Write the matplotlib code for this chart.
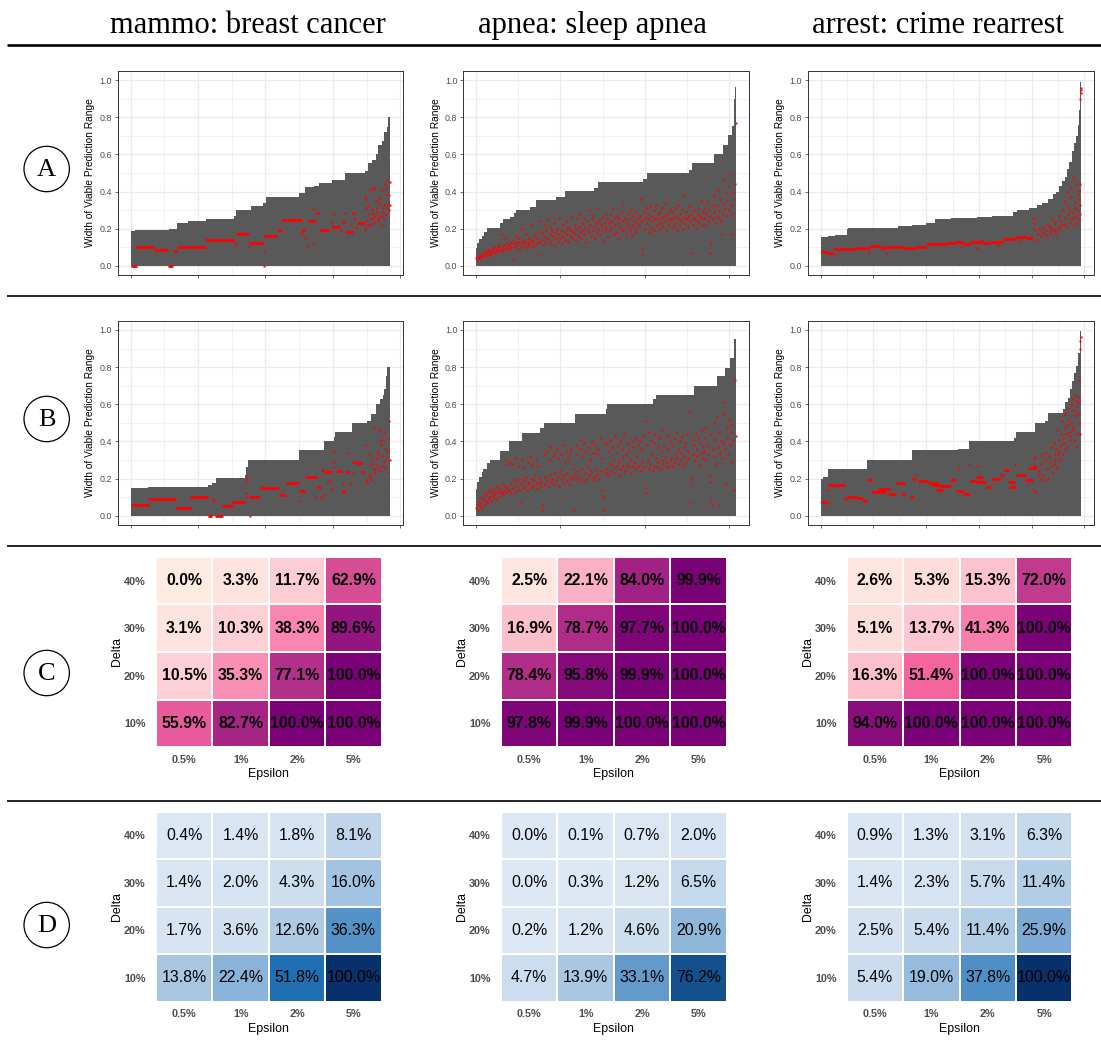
import numpy as np
import matplotlib
matplotlib.use("Agg")
import matplotlib.pyplot as plt
from matplotlib.patches import Circle
from matplotlib.colors import LinearSegmentedColormap, Normalize

plt.rcParams['font.family'] = ['Liberation Sans', 'DejaVu Sans']

# ---------------------------------------------------------------- data
titles = ["mammo: breast cancer", "apnea: sleep apnea", "arrest: crime rearrest"]
row_labels = ["A", "B", "C", "D"]
eps_labels = ["0.5%", "1%", "2%", "5%"]
delta_labels = ["10%", "20%", "30%", "40%"]

# sample counts and x tick step per dataset
n_samples = [961, 1231, 24685]
tick_steps = [250, 400, 5000]

# sorted width of viable prediction range: step start (percent of samples) -> height
mA_step_pct = [0, 1.7, 14.8, 17.9, 22.1, 29.1, 39.7, 40.6, 46.4, 51.2, 52.1, 64.9, 67.4, 70.6, 72.5,
               77.6, 82.8, 90.4, 91.4, 92.9, 94.6, 95.5, 96.8, 97.8, 98.7, 99.4]
mA_step_h = [0.187, 0.193, 0.20, 0.23, 0.24, 0.25, 0.27, 0.30, 0.32, 0.34, 0.37, 0.39, 0.425, 0.43, 0.445,
             0.46, 0.50, 0.51, 0.555, 0.57, 0.60, 0.65, 0.67, 0.72, 0.75, 0.80]
mB_step_pct = [0, 6.8, 29.8, 31.4, 32.8, 44.2, 44.6, 45.1, 64.9, 74.5, 78.3, 78.9, 85.3, 91.1, 92.5,
               94.5, 96.2, 97.1, 97.8, 98.3, 99.0]
mB_step_h = [0.147, 0.152, 0.165, 0.175, 0.202, 0.22, 0.26, 0.30, 0.353, 0.40, 0.425, 0.45, 0.50, 0.51,
             0.55, 0.60, 0.63, 0.65, 0.68, 0.75, 0.80]
aA_step_pct = [0, 0.5, 1.3, 2.2, 3.1, 4.1, 9.2, 10.2, 13.0, 14.6, 15.3, 20.7, 23.0, 30.9, 34.1, 45.3,
               46.9, 64.2, 65.7, 82.1, 83.1, 91.7, 95.1, 96.8, 98.5, 99.1, 99.5]
aA_step_h = [0.094, 0.124, 0.142, 0.162, 0.18, 0.204, 0.23, 0.25, 0.265, 0.283, 0.30, 0.315, 0.355,
             0.373, 0.404, 0.418, 0.45, 0.468, 0.50, 0.517, 0.553, 0.60, 0.652, 0.706, 0.755, 0.90, 0.964]
aB_step_pct = [0, 0.5, 1.3, 2.2, 2.8, 4.1, 5.4, 9.2, 12.8, 17.5, 24.6, 26.1, 38.0, 49.9, 50.4, 68.0,
               69.3, 84.0, 92.6, 95.8, 97.8, 99.4]
aB_step_h = [0.143, 0.183, 0.206, 0.233, 0.254, 0.283, 0.30, 0.351, 0.40, 0.448, 0.47, 0.498, 0.55,
             0.575, 0.60, 0.627, 0.649, 0.70, 0.753, 0.796, 0.848, 0.95]
rA_step_pct = [0, 2.9, 5.5, 10.1, 10.5, 29.6, 35.0, 40.5, 44.0, 50.0, 60.0, 66.0, 73.9, 75.4, 80.2,
               83.1, 85.0, 87.5, 89.2, 90.3, 91.4, 92.6, 93.7, 94.6, 95.5, 96.4, 97.2, 98.1, 98.7,
               99.2, 99.5, 99.7]
rA_step_h = [0.153, 0.162, 0.168, 0.20, 0.203, 0.212, 0.218, 0.228, 0.25, 0.256, 0.262, 0.27, 0.29,
             0.298, 0.31, 0.325, 0.338, 0.36, 0.385, 0.40, 0.43, 0.455, 0.48, 0.52, 0.56, 0.62, 0.66,
             0.70, 0.76, 0.84, 0.92, 0.99]
rB_step_pct = [0, 1.0, 2.9, 17.6, 34.9, 52.6, 56.9, 74.3, 75.2, 82.4, 86.2, 87.5, 93.1, 94.0, 94.9,
               95.9, 96.6, 97.4, 98.2, 99.0, 99.6]
rB_step_h = [0.20, 0.206, 0.25, 0.30, 0.353, 0.358, 0.40, 0.42, 0.45, 0.50, 0.51, 0.552, 0.573, 0.61,
             0.636, 0.68, 0.726, 0.77, 0.806, 0.878, 0.995]

# runs of samples sharing the same red value: (start pct, end pct, value)
mA_runs = [(0, 2.3, 0.0), (2.0, 8.9, 0.103), (8.9, 14.4, 0.085), (14.4, 16.3, 0.0), (16.3, 17.9, 0.08),
           (17.9, 29.1, 0.103), (29.1, 40.0, 0.14), (40.6, 45.5, 0.171), (45.7, 51.5, 0.124),
           (51.5, 56.6, 0.162), (56.6, 58.2, 0.19), (58.2, 65.9, 0.247), (65.5, 67.4, 0.19),
           (68.2, 71.5, 0.24), (71.5, 72.5, 0.287), (72.5, 76.6, 0.193), (77.4, 80.8, 0.21),
           (81.5, 82.8, 0.235), (82.8, 85.6, 0.18), (85.3, 86.6, 0.283), (87.2, 90.2, 0.232),
           (89.8, 90.7, 0.198), (93.0, 94.3, 0.42)]
mB_runs = [(0, 7.0, 0.057), (6.8, 17.6, 0.09), (17.5, 23.1, 0.041), (22.7, 29.8, 0.10), (29.8, 31.3, 0.0),
           (31.3, 32.7, 0.086), (32.7, 35.5, 0.0), (35.1, 39.3, 0.054), (39.0, 44.1, 0.075),
           (45.7, 49.9, 0.10), (49.9, 57.2, 0.147), (57.2, 60.0, 0.11), (60.0, 64.9, 0.174),
           (64.9, 67.2, 0.133), (67.2, 71.9, 0.21), (71.9, 73.2, 0.152), (73.2, 74.7, 0.245),
           (74.7, 77.7, 0.237), (79.3, 81.5, 0.242), (81.5, 83.1, 0.134), (82.6, 84.1, 0.233),
           (85.3, 86.6, 0.287), (86.8, 89.1, 0.283), (88.8, 90.0, 0.233)]
rA_runs = [(0, 2.9, 0.072), (2.9, 4.9, 0.067), (4.9, 10.0, 0.088), (10.0, 13.8, 0.092), (13.8, 18.9, 0.097),
           (18.9, 22.7, 0.108), (22.7, 24.6, 0.097), (24.6, 31.7, 0.103), (31.7, 36.8, 0.094),
           (36.8, 40.6, 0.103), (40.6, 48.3, 0.115), (48.3, 52.1, 0.121), (52.1, 54.7, 0.13),
           (54.7, 57.2, 0.117), (57.2, 62.3, 0.126), (62.3, 64.9, 0.121), (64.9, 70.0, 0.13),
           (70.0, 75.1, 0.142), (75.1, 78.9, 0.157), (78.9, 81.5, 0.148)]
rB_runs = [(0, 2.3, 0.072), (2.3, 3.3, 0.068), (2.9, 9.3, 0.167), (8.9, 10.2, 0.09), (10.2, 13.8, 0.10),
           (13.8, 16.3, 0.093), (16.3, 17.6, 0.08), (17.6, 19.8, 0.19), (19.5, 24.6, 0.13),
           (22.1, 26.6, 0.143), (25.9, 29.1, 0.116), (29.1, 32.3, 0.175), (31.0, 32.3, 0.116),
           (34.2, 35.8, 0.10), (34.9, 36.8, 0.197), (37.4, 41.3, 0.185), (41.3, 45.1, 0.175),
           (42.5, 45.7, 0.165), (45.7, 50.2, 0.16), (44.4, 47.0, 0.14), (49.6, 52.1, 0.19),
           (52.1, 54.7, 0.134), (54.7, 57.2, 0.116), (57.2, 59.8, 0.188), (59.8, 62.3, 0.206),
           (59.8, 63.6, 0.18), (63.6, 65.5, 0.152), (65.5, 68.7, 0.197), (68.7, 70.6, 0.219),
           (70.6, 72.5, 0.247), (71.9, 74.8, 0.18), (72.5, 75.1, 0.156), (75.1, 78.9, 0.219),
           (78.3, 81.5, 0.194), (79.6, 82.8, 0.255)]

# individual red points: (pct of samples, value)
mA_pts = [(51.5, 0.08), (51.5, 0.0), (40.6, 0.11), (40.2, 0.12), (29.1, 0.145), (21.7, 0.095),
          (68.1, 0.10), (67.6, 0.15), (70.5, 0.12), (70.2, 0.305), (45.7, 0.105), (66.1, 0.175),
          (77.1, 0.235), (77.9, 0.28), (81.2, 0.19), (82.5, 0.285), (86.0, 0.25), (87.0, 0.205),
          (85.0, 0.22), (90.4, 0.37), (90.8, 0.31), (91.2, 0.24), (91.4, 0.22), (91.8, 0.28),
          (92.1, 0.41), (92.5, 0.26), (92.7, 0.22), (93.0, 0.30), (93.4, 0.25), (93.6, 0.28),
          (93.9, 0.23), (94.3, 0.27), (94.5, 0.35), (94.8, 0.29), (95.0, 0.31), (95.3, 0.26),
          (95.5, 0.24), (95.8, 0.34), (96.0, 0.36), (96.3, 0.27), (96.6, 0.22), (96.8, 0.41),
          (97.1, 0.31), (97.3, 0.29), (97.6, 0.33), (97.8, 0.25), (98.1, 0.44), (98.3, 0.38),
          (98.6, 0.28), (98.9, 0.31), (99.1, 0.46), (99.4, 0.33), (99.6, 0.30), (99.9, 0.45),
          (90.9, 0.36), (91.5, 0.32), (97.0, 0.27), (98.5, 0.42), (99.7, 0.38), (99.8, 0.33)]
mB_pts = [(44.6, 0.10), (44.8, 0.19), (45.0, 0.21), (44.5, 0.12), (46.0, 0.0), (64.9, 0.08),
          (71.4, 0.10), (74.7, 0.11), (77.9, 0.35), (78.3, 0.29), (76.1, 0.18), (78.1, 0.26),
          (73.5, 0.10), (77.7, 0.145), (83.9, 0.34), (82.0, 0.17), (84.5, 0.17), (76.9, 0.19),
          (86.3, 0.23), (87.8, 0.29), (90.5, 0.38), (90.9, 0.19), (91.3, 0.18), (91.7, 0.22),
          (92.0, 0.33), (92.3, 0.21), (92.7, 0.28), (93.0, 0.30), (93.4, 0.25), (93.7, 0.23),
          (94.0, 0.47), (94.3, 0.25), (94.6, 0.28), (94.9, 0.31), (95.1, 0.35), (95.4, 0.33),
          (95.7, 0.26), (95.9, 0.46), (96.2, 0.24), (96.4, 0.38), (96.8, 0.32), (97.1, 0.41),
          (97.3, 0.27), (97.6, 0.45), (97.8, 0.29), (98.1, 0.26), (98.3, 0.36), (98.7, 0.31),
          (99.1, 0.35), (99.4, 0.42), (99.6, 0.51), (99.9, 0.30), (92.5, 0.19), (96.0, 0.40)]
rA_pts = [(5, 0.065), (18, 0.075), (25, 0.07), (54, 0.10), (60, 0.095), (62, 0.14), (68, 0.11),
          (72, 0.15), (76, 0.13), (78, 0.16), (81.5, 0.26), (82, 0.23), (82.5, 0.19), (83, 0.14),
          (83.5, 0.17), (84, 0.20), (84.5, 0.16), (85, 0.18), (85.5, 0.21), (86, 0.17), (86.5, 0.19),
          (87, 0.16), (87.5, 0.22), (88, 0.18), (88.5, 0.20), (89, 0.25), (89.5, 0.19), (90, 0.23),
          (90.5, 0.17), (91, 0.21), (91.5, 0.27), (92, 0.20), (92.5, 0.24), (93, 0.30), (93.3, 0.22),
          (93.6, 0.35), (94, 0.26), (94.3, 0.33), (94.6, 0.40), (95, 0.28), (95.3, 0.31), (95.6, 0.37),
          (96, 0.25), (96.3, 0.42), (96.6, 0.29), (97, 0.48), (97.3, 0.22), (97.6, 0.34), (98, 0.27),
          (98.2, 0.44), (98.5, 0.23), (98.8, 0.38), (99, 0.30), (99.2, 0.41), (99.4, 0.25),
          (99.6, 0.33), (99.8, 0.90), (99.85, 0.93), (99.9, 0.96), (99.95, 0.95), (88.2, 0.21),
          (90.2, 0.19), (92.2, 0.22), (94.2, 0.21), (95.8, 0.23), (97.8, 0.31), (99.1, 0.36),
          (99.5, 0.28), (99.7, 0.44), (96.8, 0.26)]
rB_pts = [(2.6, 0.14), (36.8, 0.22), (53.1, 0.25), (57.0, 0.277), (60.4, 0.27), (74.5, 0.28),
          (81.9, 0.31), (82.2, 0.13), (81.5, 0.14), (82.1, 0.27), (82.5, 0.31), (82.8, 0.26),
          (83.4, 0.22), (83.8, 0.24), (84.3, 0.20), (84.7, 0.28), (85.1, 0.33), (85.3, 0.22),
          (85.7, 0.19), (86.1, 0.30), (86.6, 0.34), (87.0, 0.25), (87.4, 0.20), (87.9, 0.32),
          (88.3, 0.37), (88.6, 0.27), (89.1, 0.23), (89.5, 0.39), (89.9, 0.33), (90.2, 0.30),
          (90.5, 0.36), (90.9, 0.26), (91.2, 0.46), (91.4, 0.41), (91.7, 0.35), (92.0, 0.30),
          (92.2, 0.44), (92.5, 0.38), (92.7, 0.51), (93.0, 0.33), (93.2, 0.42), (93.5, 0.39),
          (93.7, 0.47), (94.0, 0.55), (94.3, 0.44), (94.5, 0.49), (94.8, 0.37), (95.0, 0.58),
          (95.3, 0.45), (95.5, 0.52), (95.8, 0.41), (96.0, 0.60), (96.3, 0.50), (96.6, 0.63),
          (96.8, 0.46), (97.1, 0.57), (97.3, 0.40), (97.6, 0.65), (97.8, 0.54), (98.1, 0.62),
          (98.3, 0.44), (98.6, 0.59), (98.9, 0.64), (99.1, 0.73), (99.2, 0.61), (99.4, 0.50),
          (99.5, 0.44), (99.6, 0.90), (99.7, 0.94), (99.9, 0.96), (88.0, 0.29), (90.0, 0.28),
          (91.0, 0.33), (93.9, 0.36), (95.6, 0.43), (97.0, 0.48), (98.0, 0.37), (99.0, 0.55)]

# apnea: red value of the samples in rank order (hundredths)
aA_red = [4, 3, 5, 4, 6, 4, 5, 7, 5, 6, 8, 6, 7, 5, 8, 7, 9, 6, 8, 7, 9, 8, 10, 7, 9, 8, 10, 9, 11, 8, 17, 9, 10, 8, 11, 15, 9, 10, 12, 9,
          11, 9, 13, 10, 12, 3, 14, 10, 12, 16, 11, 13, 9, 15, 12, 10, 20, 13, 11, 14, 12, 17, 10, 13, 11, 15, 12, 22, 10, 14, 13, 16, 11, 18, 12, 15, 6, 13, 24, 14,
          14, 18, 11, 16, 22, 13, 19, 15, 25, 12, 17, 21, 14, 19, 16, 23, 11, 18, 15, 20, 13, 17, 26, 15, 19, 12, 22, 16, 18, 14, 24, 17, 20, 13, 21, 16, 19, 27, 15, 18,
          17, 22, 14, 20, 25, 16, 21, 18, 28, 15, 23, 19, 26, 17, 21, 13, 24, 20, 30, 18, 22, 16, 25, 19, 27, 21, 15, 23, 18, 31, 20, 24, 17, 22, 26, 19, 14, 23, 21, 28,
          20, 25, 16, 23, 28, 19, 24, 21, 31, 17, 26, 22, 18, 27, 23, 15, 25, 21, 29, 19, 24, 33, 20, 26, 17, 23, 28, 21, 25, 19, 30, 22, 16, 27, 24, 20, 29, 18, 23, 26,
          22, 27, 36, 24, 6, 9, 29, 20, 26, 31, 23, 28, 18, 25, 32, 21, 27, 24, 30, 19, 26, 33, 22, 28, 25, 20, 29, 23, 31, 26, 21, 27, 24, 34, 19, 28, 25, 22, 30, 26,
          24, 29, 21, 26, 31, 23, 27, 19, 33, 25, 22, 28, 24, 30, 20, 26, 38, 23, 29, 25, 21, 27, 32, 24, 28, 7, 22, 26, 30, 25, 20, 28, 24, 31, 23, 27, 35, 26, 22, 29,
          26, 31, 22, 28, 35, 24, 30, 27, 7, 12, 33, 25, 29, 38, 23, 32, 27, 41, 26, 30, 36, 24, 17, 34, 28, 46, 31, 39, 27, 35, 43, 30, 49, 33, 28, 17, 40, 36, 44, 77]
aB_red = [4, 6, 3, 8, 5, 7, 10, 4, 9, 6, 12, 8, 11, 7, 13, 10, 9, 14, 8, 12, 10, 15, 11, 13, 9, 16, 12, 14, 10, 15, 13, 11, 17, 12, 14, 16, 13, 30, 15, 28,
          14, 29, 17, 12, 28, 15, 19, 13, 31, 16, 18, 27, 14, 20, 7, 17, 30, 15, 19, 26, 16, 21, 14, 29, 18, 17, 32, 15, 20, 28, 16, 19, 22, 30, 17, 15, 27, 18, 21, 16,
          18, 3, 6, 33, 17, 21, 35, 19, 16, 30, 22, 37, 18, 20, 32, 23, 17, 34, 19, 36, 21, 31, 16, 24, 33, 20, 38, 18, 22, 29, 35, 19, 23, 31, 17, 34, 21, 36, 20, 25,
          3, 22, 38, 20, 33, 24, 19, 36, 21, 41, 25, 32, 18, 39, 23, 35, 20, 26, 37, 22, 30, 24, 40, 19, 34, 21, 38, 25, 33, 22, 36, 20, 42, 24, 31, 14, 10, 3, 39, 23,
          25, 39, 22, 35, 28, 41, 24, 37, 30, 26, 43, 23, 34, 27, 38, 29, 22, 40, 25, 36, 31, 27, 44, 24, 33, 28, 39, 26, 35, 30, 23, 41, 27, 37, 29, 25, 42, 32, 26, 38,
          27, 40, 24, 36, 29, 43, 26, 51, 15, 12, 38, 30, 25, 45, 28, 41, 33, 24, 39, 27, 44, 31, 26, 37, 29, 42, 25, 35, 30, 46, 28, 38, 32, 27, 43, 29, 36, 26, 40, 31,
          30, 38, 27, 42, 33, 29, 45, 31, 36, 28, 40, 34, 30, 43, 27, 37, 32, 39, 29, 44, 35, 31, 56, 7, 20, 17, 41, 33, 38, 30, 44, 36, 32, 42, 28, 39, 34, 46, 31, 37,
          35, 42, 30, 47, 38, 33, 22, 18, 44, 8, 6, 36, 50, 32, 41, 28, 53, 37, 6, 45, 34, 40, 31, 55, 39, 61, 36, 17, 48, 42, 33, 52, 38, 45, 29, 49, 41, 14, 73, 43]

# heatmaps: rows = delta 10%,20%,30%,40%; cols = epsilon 0.5%,1%,2%,5%
mammo_C = [[55.9, 82.7, 100.0, 100.0], [10.5, 35.3, 77.1, 100.0], [3.1, 10.3, 38.3, 89.6], [0.0, 3.3, 11.7, 62.9]]
apnea_C = [[97.8, 99.9, 100.0, 100.0], [78.4, 95.8, 99.9, 100.0], [16.9, 78.7, 97.7, 100.0], [2.5, 22.1, 84.0, 99.9]]
arrest_C = [[94.0, 100.0, 100.0, 100.0], [16.3, 51.4, 100.0, 100.0], [5.1, 13.7, 41.3, 100.0], [2.6, 5.3, 15.3, 72.0]]
mammo_D = [[13.8, 22.4, 51.8, 100.0], [1.7, 3.6, 12.6, 36.3], [1.4, 2.0, 4.3, 16.0], [0.4, 1.4, 1.8, 8.1]]
apnea_D = [[4.7, 13.9, 33.1, 76.2], [0.2, 1.2, 4.6, 20.9], [0.0, 0.3, 1.2, 6.5], [0.0, 0.1, 0.7, 2.0]]
arrest_D = [[5.4, 19.0, 37.8, 100.0], [2.5, 5.4, 11.4, 25.9], [1.4, 2.3, 5.7, 11.4], [0.9, 1.3, 3.1, 6.3]]

# ---------------------------------------------------------------- figure
W, H = 1101, 1049
fig = plt.figure(figsize=(W / 100, H / 100), dpi=100)


def px_axes(x0, y0, x1, y1, **kw):
    return fig.add_axes([x0 / W, 1 - y1 / H, (x1 - x0) / W, (y1 - y0) / H], **kw)


deco = px_axes(0, 0, W, H)
deco.set_xlim(0, W)
deco.set_ylim(H, 0)
deco.axis('off')

col_centers = [248, 592, 938]
for t, cx in zip(titles, col_centers):
    deco.text(cx, 33, t, family='Liberation Serif', fontsize=22, ha='center', va='baseline')
deco.plot([7, W], [44.5, 44.5], color='black', lw=1.9, solid_capstyle='butt')
for y in [296, 546, 800.5]:
    deco.plot([7, W], [y, y], color='black', lw=1.2, solid_capstyle='butt')
for lab, cy in zip(row_labels, [169, 419, 673, 925]):
    deco.add_patch(Circle((46.7, cy), 22.7, fill=False, lw=0.9, ec='black'))
    deco.text(46.7, cy + 1, lab, family='Liberation Serif', fontsize=19, ha='center', va='center')

panel_x = [(117.7, 403), (463, 749), (807.7, 1094)]
panel_y = [(71, 275), (320.7, 525)]


def area_panel(ax, N, step, step_pct, step_h, runs, pts, dense=None):
    x = np.array(step_pct + [100.0]) / 100.0 * N + 0.5
    h = np.array(step_h + [step_h[-1]])
    ax.fill_between(x, h, step='post', color='#595959', lw=0, zorder=2)
    for (p0, p1, v) in runs:
        ax.hlines(v, p0 / 100.0 * N + 0.5, p1 / 100.0 * N + 0.5, colors='red', lw=2.0, zorder=3)
    if pts:
        px = np.array([p for p, _ in pts]) / 100.0 * N + 0.5
        py = np.array([v for _, v in pts])
        ax.plot(px, py, 's', ms=1.8, color='red', mec='none', zorder=3)
    if dense is not None:
        n = len(dense)
        dx = (np.arange(n) + 0.5) / n * N + 0.5
        ax.plot(dx, np.array(dense) / 100.0, 's', ms=2.0, color='red', mec='none', zorder=3)
    xmin, xmax = 0.5 - 0.05 * N, N + 0.5 + 0.05 * N
    ax.set_xlim(xmin, xmax)
    ax.set_ylim(-0.05, 1.05)
    ax.set_xticks(np.arange(0, xmax, step))
    ax.set_xticks(np.arange(step / 2, xmax, step), minor=True)
    ax.set_xticklabels([])
    ax.set_yticks([0, 0.2, 0.4, 0.6, 0.8, 1.0])
    ax.set_yticklabels(['0.0', '0.2', '0.4', '0.6', '0.8', '1.0'])
    ax.set_yticks([0.1, 0.3, 0.5, 0.7, 0.9], minor=True)
    ax.grid(which='major', color='#EBEBEB', lw=0.9)
    ax.grid(which='minor', color='#EBEBEB', lw=0.5)
    ax.set_axisbelow(True)
    for s in ax.spines.values():
        s.set_color('#333333')
        s.set_linewidth(0.7)
    ax.tick_params(which='major', direction='out', length=2.5, width=0.5, color='#333333',
                   labelsize=6.4, labelcolor='#4D4D4D', pad=1.5)
    ax.tick_params(which='minor', length=0)
    ax.set_ylabel('Width of Viable Prediction Range', fontsize=7.3, labelpad=3)


steps_data = [
    [(mA_step_pct, mA_step_h, mA_runs, mA_pts, None),
     (aA_step_pct, aA_step_h, [], [], aA_red),
     (rA_step_pct, rA_step_h, rA_runs, rA_pts, None)],
    [(mB_step_pct, mB_step_h, mB_runs, mB_pts, None),
     (aB_step_pct, aB_step_h, [], [], aB_red),
     (rB_step_pct, rB_step_h, rB_runs, rB_pts, None)],
]
for r in range(2):
    for c in range(3):
        sp, sh, runs, pts, dense = steps_data[r][c]
        ax = px_axes(panel_x[c][0], panel_y[r][0], panel_x[c][1], panel_y[r][1])
        area_panel(ax, n_samples[c], tick_steps[c], sp, sh, runs, pts, dense)

pink = LinearSegmentedColormap.from_list('pink', [(0, '#FEEBE2'), (0.5, '#F768A1'), (1, '#7A0177')])
blue = LinearSegmentedColormap.from_list('blue', [(0, '#DDE8F5'), (0.5, '#2171B5'), (1, '#08306B')])

heat_x = [(156, 381.7), (501, 726.7), (846.7, 1072.3)]
heat_y = [(556.7, 747.3), (811.7, 1001.7)]


def heat_panel(ax, vals, cmap, bold):
    arr = np.array(vals)
    ax.pcolormesh(np.arange(5), np.arange(5), arr, cmap=cmap, norm=Normalize(0, 100),
                  edgecolors='white', linewidth=1.2)
    for i in range(4):
        for j in range(4):
            ax.text(j + 0.5, i + 0.5, f'{arr[i, j]:.1f}%', ha='center', va='center', fontsize=11.4,
                    fontweight='bold' if bold else 'normal', color='black')
    ax.set_xlim(0, 4)
    ax.set_ylim(0, 4)
    ax.set_xticks(np.arange(4) + 0.5)
    ax.set_xticklabels(eps_labels)
    ax.set_yticks(np.arange(4) + 0.5)
    ax.set_yticklabels(delta_labels)
    for s in ax.spines.values():
        s.set_visible(False)
    ax.tick_params(axis='x', length=0, labelsize=7.8, labelcolor='#4D4D4D', pad=5.5)
    ax.tick_params(axis='y', length=0, labelsize=7.8, labelcolor='#4D4D4D', pad=7.4)
    for lbl in ax.get_xticklabels() + ax.get_yticklabels():
        lbl.set_fontweight('bold')
    ax.set_xlabel('Epsilon', fontsize=8.9, labelpad=2.5)
    ax.set_ylabel('Delta', fontsize=8.9, labelpad=0.5)


heat_data = [[mammo_C, apnea_C, arrest_C], [mammo_D, apnea_D, arrest_D]]
for r in range(2):
    for c in range(3):
        ax = px_axes(heat_x[c][0], heat_y[r][0], heat_x[c][1], heat_y[r][1])
        heat_panel(ax, heat_data[r][c], pink if r == 0 else blue, bold=(r == 0))

fig.savefig('out.png', dpi=100)
